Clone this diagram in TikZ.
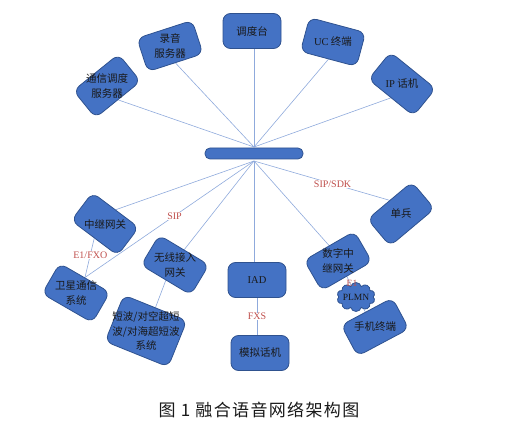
\documentclass[tikz,border=0pt]{standalone}
\usepackage{fontspec}
\setmainfont{Liberation Serif}
\newfontfamily\cjk{Noto Sans CJK SC}
\newfontfamily\capfont[LetterSpace=8]{Noto Sans CJK SC}
\usetikzlibrary{shapes.symbols,backgrounds}
\definecolor{boxfill}{RGB}{68,114,196}
\definecolor{boxdraw}{RGB}{47,82,143}
\definecolor{wirecol}{RGB}{143,170,220}
\definecolor{lblred}{RGB}{192,80,77}
\begin{document}
\begin{tikzpicture}[x=1pt,y=-1pt,
  box/.style={draw=boxdraw,fill=boxfill,line width=0.8pt,rounded corners=7.5pt,minimum width=58pt,minimum height=35pt,inner sep=0pt},
  txt/.style={font=\fontsize{10.5}{14.5}\selectfont\cjk,align=center,text=black!90,inner sep=0pt},
  wire/.style={draw=wirecol,line width=0.6pt},
  tag/.style={font=\fontsize{10}{12}\selectfont,text=lblred,fill=white,inner sep=0.5pt}]
\useasboundingbox (0,0) rectangle (508,430);
% top nodes
\node[box,rotate=39] (txdd) at (107,86) {};
\node[box,rotate=18] (lyfw) at (170,46) {};
\node[box] (ddt) at (252,31) {};
\node[box,rotate=-15] (uc) at (333,42) {};
\node[box,rotate=-39] (ip) at (402,84) {};
% hub
\node[box,minimum width=98pt,minimum height=11pt,rounded corners=5pt] (hub) at (254,153.5) {};
\coordinate (htop) at (254,147);
\coordinate (hbot) at (254,161);
% bottom nodes
\node[box,rotate=-37] (zjwg) at (105,224) {};
\node[box,rotate=-30] (wxtx) at (76,293) {};
\node[box,rotate=-31] (wxjr) at (175,265) {};
\node[box,rotate=-22,minimum width=68pt,minimum height=50pt] (dbxt) at (146,331) {};
\node[box] (iad) at (257,280) {};
\node[box] (mnhj) at (260,353) {};
\node[box,rotate=30] (szzj) at (338,261) {};
\node[box,rotate=40] (db) at (401,214) {};
\node[cloud,cloud puffs=10,aspect=1.3,draw=boxdraw,fill=boxfill,line width=0.8pt,minimum width=38pt,minimum height=29pt,inner sep=0pt] (plmn) at (356,297) {};
\node[box,rotate=28] (sjzd) at (375,327) {};
% texts
\node[txt] (txddT) at (txdd) {通信调度\\服务器};
\node[txt] (lyfwT) at (lyfw) {录音\\服务器};
\node[txt] (ddtT) at (ddt) {调度台};
\node[txt] (ucT) at (uc) {{\rmfamily UC} 终端};
\node[txt] (ipT) at (ip) {{\rmfamily IP} 话机};
\node[txt] (zjwgT) at (zjwg) {中继网关};
\node[txt] (wxtxT) at (wxtx) {卫星通信\\系统};
\node[txt] (wxjrT) at (wxjr) {无线接入\\网关};
\node[txt] (dbxtT) at (dbxt) {短波/对空超短\\波/对海超短波\\系统};
\node[txt] (iadT) at (iad) {\rmfamily IAD};
\node[txt] (mnhjT) at (mnhj) {模拟话机};
\node[txt] (szzjT) at (szzj) {数字中\\继网关};
\node[txt] (dbT) at (db) {单兵};
\node[txt] (sjzdT) at (sjzd) {手机终端};
\node[font=\fontsize{9.5}{11}\selectfont,text=black!90,inner sep=0pt] (plmnT) at (plmn) {PLMN};
% caption
\node[font=\capfont\fontsize{17}{20}\selectfont,text=black!90] (cap) at (259,410) {图 1 融合语音网络架构图};
% connectors
\begin{pgfonlayer}{background}
\draw[wire] (htop) -- (txdd.south);
\draw[wire] (htop) -- (lyfw.south);
\draw[wire] (htop) -- (htop |- ddt.south);
\draw[wire] (htop) -- (uc.south);
\draw[wire] (htop) -- (ip.south);
\draw[wire] (hbot) -- (zjwg.north);
\draw[wire] (hbot) -- node[tag,pos=0.47] (sip) {SIP} (wxtx.north);
\draw[wire] (hbot) -- (wxjr.north);
\draw[wire] (hbot) -- (hbot |- iad.north);
\draw[wire] (hbot) -- (szzj.north);
\draw[wire] (hbot) -- node[tag,pos=0.58] (sipsdk) {SIP/SDK} (db.north);
\draw[wire] (zjwg.south) -- node[tag,pos=0.42] (e1fxo) {E1/FXO} (wxtx.north);
\draw[wire] (wxjr.south) -- (dbxt.north);
\draw[wire] (iad.south) -- node[tag,pos=0.5] (fxs) {FXS} (iad.south |- mnhj.north);
\draw[wire] (szzj.south) -- (plmn);
\draw[wire] (plmn) -- (sjzd);
\end{pgfonlayer}
\node[font=\fontsize{9.5}{11}\selectfont,text=lblred,inner sep=0pt] (e1) at (352,283) {E1};
\end{tikzpicture}
\end{document}
